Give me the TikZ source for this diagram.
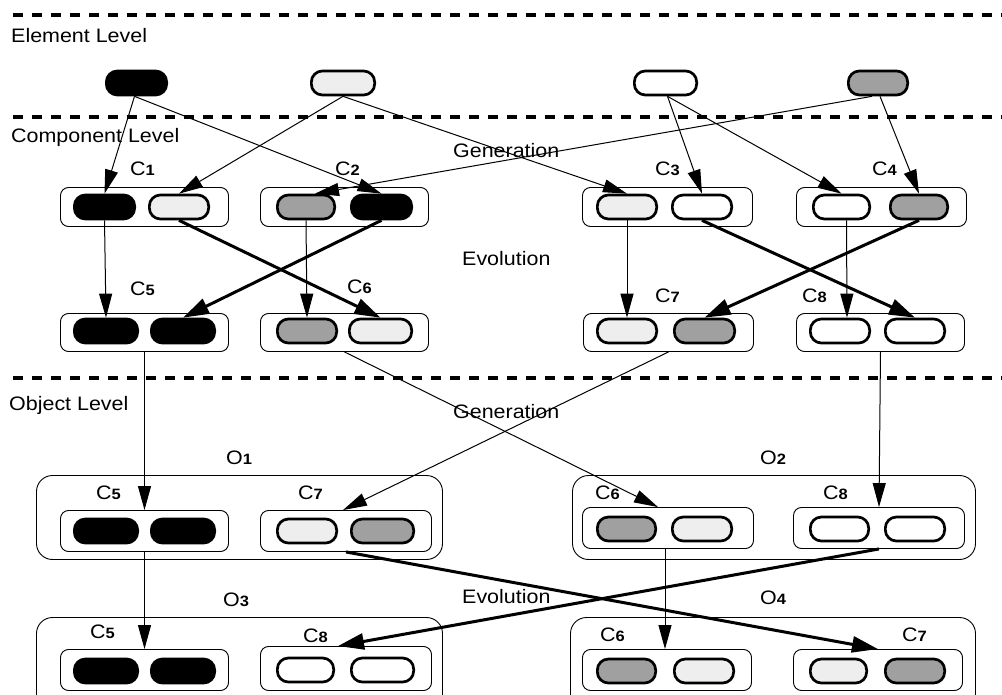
\documentclass[tikz,border=0pt]{standalone}
\usepackage{fontspec}
\setmainfont{Liberation Sans}[FakeStretch=1.1]
\usetikzlibrary{arrows.meta,calc}
\definecolor{lg}{HTML}{EEEEEE}
\definecolor{mg}{HTML}{A0A0A0}
\tikzset{
 pill/.style={draw, line width=2.7pt, rounded corners=11pt, minimum height=24pt, inner sep=0pt},
 cbox/.style={draw, line width=0.9pt, rounded corners=8pt, inner sep=0pt},
 obox/.style={draw, line width=0.9pt, rounded corners=16pt, inner sep=0pt},
 lvl/.style={dash pattern=on 10pt off 9pt, line width=4pt},
 txt/.style={anchor=base west, inner sep=0pt, font=\fontsize{19.5pt}{21pt}\selectfont},
 garrow/.style={line width=1pt, -{Triangle[length=24pt,width=13pt]}},
 tarrow/.style={line width=3pt, -{Triangle[length=26pt,width=16pt]}},
}
\newcommand\pill[5]{\node[pill, fill=#5, minimum width={#3-#2-2.7}] (#1) at ({(#2+#3)/2},#4) {};}
\newcommand\bx[6]{\node[#6, minimum width={#3-#2-1}, minimum height={#5-#4-1}] (#1) at ({(#2+#3)/2},{(#4+#5)/2}) {};}
\newcommand\lab[2]{#1{\fontsize{15pt}{15pt}\selectfont\bfseries #2}}
\begin{document}
\begin{tikzpicture}[x=1pt,y=-1pt]
\useasboundingbox (0,0) rectangle (1002,695);
\clip (0,0) rectangle (1002,695);
% level separators
\draw[lvl] (13,15) -- (1002,15);
\draw[lvl] (13,117) -- (1002,117);
\draw[lvl] (13,378) -- (1002,378);
% level texts
\node[txt] (tEl) at (11,43) {Element Level};
\node[txt] (tCo) at (11,143) {Component Level};
\node[txt] (tOb) at (9,410) {Object Level};
\node[txt] (tG1) at (453,158) {Generation};
\node[txt] (tE1) at (462,266) {Evolution};
\node[txt] (tG2) at (453,418) {Generation};
\node[txt] (tE2) at (462,603) {Evolution};
% element level
\pill{E1}{105}{168}{83}{black}
\pill{E2}{310}{376}{83}{lg}
\pill{E3}{633}{698}{83}{white}
\pill{E4}{847}{909}{83}{mg}
% component row 1
\bx{B1}{60}{229}{187}{227}{cbox}
\bx{B2}{260}{429}{187}{227}{cbox}
\bx{B3}{582}{753}{187}{227}{cbox}
\bx{B4}{796}{967}{187}{227}{cbox}
\pill{C1a}{73}{136}{207}{black}
\pill{C1b}{148}{210}{207}{lg}
\pill{C2a}{276}{336}{207}{mg}
\pill{C2b}{350}{413}{207}{black}
\pill{C3a}{596}{658}{207}{lg}
\pill{C3b}{671}{733}{207}{white}
\pill{C4a}{812}{871}{207}{white}
\pill{C4b}{889}{949}{207}{mg}
\node[txt] (l1) at (130,176) {\lab{C}{1}};
\node[txt] (l2) at (335,176) {\lab{C}{2}};
\node[txt] (l3) at (655,176) {\lab{C}{3}};
\node[txt] (l4) at (872,176) {\lab{C}{4}};
% component row 2
\bx{B5}{60}{229}{313}{352}{cbox}
\bx{B6}{260}{429}{313}{352}{cbox}
\bx{B7}{583}{754}{313}{352}{cbox}
\bx{B8}{796}{965}{313}{352}{cbox}
\pill{C5a}{73}{139}{331}{black}
\pill{C5b}{150}{216}{331}{black}
\pill{C6a}{276}{338}{331}{mg}
\pill{C6b}{348}{413}{331}{lg}
\pill{C7a}{596}{658}{331}{lg}
\pill{C7b}{673}{736}{331}{mg}
\pill{C8a}{809}{871}{331}{white}
\pill{C8b}{884}{946}{331}{white}
\node[txt] (l5) at (130,296) {\lab{C}{5}};
\node[txt] (l6) at (347,294) {\lab{C}{6}};
\node[txt] (l7) at (655,302) {\lab{C}{7}};
\node[txt] (l8) at (802,302) {\lab{C}{8}};
% object level
\bx{O1}{36}{443}{475}{560}{obox}
\bx{O2}{572}{976}{475}{560}{obox}
\bx{O3}{36}{443}{617}{725}{obox}
\bx{O4}{570}{976}{617}{725}{obox}
\node[txt] (lo1) at (226,464) {\lab{O}{1}};
\node[txt] (lo2) at (760,464) {\lab{O}{2}};
\node[txt] (lo3) at (223,606) {\lab{O}{3}};
\node[txt] (lo4) at (760,604) {\lab{O}{4}};
\bx{P5}{60}{229}{510}{552}{cbox}
\bx{P7}{260}{432}{510}{552}{cbox}
\bx{Q6}{582}{754}{507}{549}{cbox}
\bx{Q8}{793}{965}{507}{549}{cbox}
\bx{R5}{60}{229}{649}{691}{cbox}
\bx{R8}{260}{432}{646}{691}{cbox}
\bx{S6}{582}{752}{649}{691}{cbox}
\bx{S7}{793}{963}{649}{691}{cbox}
\pill{P5a}{73}{139}{531}{black}
\pill{P5b}{150}{216}{531}{black}
\pill{P7a}{276}{338}{531}{lg}
\pill{P7b}{350}{415}{531}{mg}
\pill{Q6a}{596}{657}{529}{mg}
\pill{Q6b}{671}{733}{529}{lg}
\pill{Q8a}{809}{870}{529}{white}
\pill{Q8b}{884}{946}{529}{white}
\pill{R5a}{73}{139}{671}{black}
\pill{R5b}{150}{216}{671}{black}
\pill{R8a}{276}{335}{670}{white}
\pill{R8b}{350}{415}{670}{white}
\pill{S6a}{596}{657}{671}{mg}
\pill{S6b}{673}{735}{671}{lg}
\pill{S7a}{809}{868}{671}{lg}
\pill{S7b}{884}{946}{671}{mg}
\node[txt] (lp5) at (96,499) {\lab{C}{5}};
\node[txt] (lp7) at (298,499) {\lab{C}{7}};
\node[txt] (lq6) at (595,499) {\lab{C}{6}};
\node[txt] (lq8) at (823,499) {\lab{C}{8}};
\node[txt] (lr5) at (90,638) {\lab{C}{5}};
\node[txt] (lr8) at (303,642) {\lab{C}{8}};
\node[txt] (ls6) at (600,641) {\lab{C}{6}};
\node[txt] (ls7) at (902,641) {\lab{C}{7}};
% generation: element -> component
\draw[garrow] ($(E1.south)+(-2,0)$) -- (C1a.north);
\draw[garrow] ($(E1.south)+(-2,0)$) -- (C2b.north);
\draw[garrow] (E2.south) -- (C1b.north);
\draw[garrow] (E2.south) -- (C3a.north);
\draw[garrow] ($(E3.south)+(2,0)$) -- (C3b.north);
\draw[garrow] ($(E3.south)+(2,0)$) -- (C4a.north);
\draw[garrow] ($(E4.south)+(-6,0)$) -- ($(C2a.north)+(9,0)$);
\draw[garrow] ($(E4.south)+(2,0)$) -- (C4b.north);
% evolution: component -> component
\draw[garrow] (C1a.south) -- (C5a.north);
\draw[tarrow] (C1b.south) -- (C6b.north);
\draw[garrow] (C2a.south) -- (C6a.north);
\draw[tarrow] (C2b.south) -- (C5b.north);
\draw[garrow] (C3a.south) -- (C7a.north);
\draw[tarrow] (C3b.south) -- (C8b.north);
\draw[garrow] ($(C4a.south)+(5,0)$) -- ($(C8a.north)+(7,0)$);
\draw[tarrow] (C4b.south) -- (C7b.north);
% generation: component -> object
\draw[garrow] (B5.south) -- (P5.north);
\draw[garrow] (B6.south) -- ($(Q6.north)+(-10,0)$);
\draw[garrow] (B7.south) -- ($(P7.north)+(-3,0)$);
\draw[garrow] (B8.south) -- (Q8.north);
% evolution: object -> object
\draw[garrow] (P5.south) -- (R5.north);
\draw[tarrow] (P7.south) -- (S7.north);
\draw[garrow] ($(Q6.south)+(-3,0)$) -- ($(S6.north)+(-2,0)$);
\draw[tarrow] (Q8.south) -- ($(R8.north)+(-8,0)$);
\end{tikzpicture}
\end{document}
